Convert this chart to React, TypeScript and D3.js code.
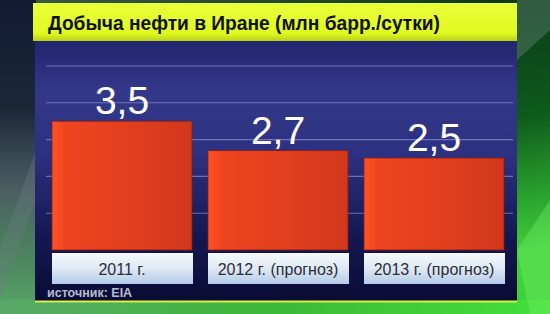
import * as d3 from "d3";
import React from "react";

// Oil production in Iran, million barrels per day
const categories = ["2011 г.", "2012 г. (прогноз)", "2013 г. (прогноз)"];
const values = [3.5, 2.7, 2.5];
const valueLabels = ["3,5", "2,7", "2,5"];
const gridTicks = [1, 2, 3, 4, 5];
const title = "Добыча нефти в Иране (млн барр./сутки)";
const source = "источник: EIA";

export default function App() {
    const width = 550;
    const height = 314;

    const x = d3.scaleBand<string>()
        .domain(categories)
        .range([52, 504])
        .paddingInner(16 / 156)
        .paddingOuter(0);

    const y = d3.scaleLinear().domain([0, 5]).range([250, 66]);

    const font = "'Liberation Sans', Arial, sans-serif";

    return (
        <svg width={width} height={height} style={{ position: "absolute", left: 0, top: 0 }}>
            <defs>
                <linearGradient id="bgRight" x1="0" y1="0" x2="0.3" y2="1">
                    <stop offset="0" stopColor="#3c5a4c" />
                    <stop offset="0.25" stopColor="#0c3a18" />
                    <stop offset="0.6" stopColor="#0e5a1c" />
                    <stop offset="1" stopColor="#3ed23a" />
                </linearGradient>
                <linearGradient id="bgLeft" x1="0" y1="0" x2="0" y2="1">
                    <stop offset="0" stopColor="#121a34" />
                    <stop offset="0.35" stopColor="#1c2838" />
                    <stop offset="0.6" stopColor="#4a5e62" />
                    <stop offset="0.85" stopColor="#4d8a5e" />
                    <stop offset="1" stopColor="#5aa868" />
                </linearGradient>
                <linearGradient id="bgBottom" x1="0" y1="0" x2="1" y2="0">
                    <stop offset="0" stopColor="#5aa868" />
                    <stop offset="0.5" stopColor="#3cb838" />
                    <stop offset="1" stopColor="#44e03a" />
                </linearGradient>
                <linearGradient id="titleGrad" x1="0" y1="0" x2="0" y2="1">
                    <stop offset="0" stopColor="#eaff3a" />
                    <stop offset="0.8" stopColor="#e0fa20" />
                    <stop offset="1" stopColor="#b8d018" />
                </linearGradient>
                <linearGradient id="panelGrad" x1="0" y1="0" x2="0" y2="1">
                    <stop offset="0" stopColor="#22256e" />
                    <stop offset="0.2" stopColor="#33388a" />
                    <stop offset="0.45" stopColor="#2c3080" />
                    <stop offset="0.75" stopColor="#141852" />
                    <stop offset="1" stopColor="#0a0c34" />
                </linearGradient>
                <linearGradient id="barGrad" x1="0" y1="0" x2="1" y2="0">
                    <stop offset="0" stopColor="#ff5224" />
                    <stop offset="0.1" stopColor="#ee4420" />
                    <stop offset="0.6" stopColor="#e03e1e" />
                    <stop offset="1" stopColor="#d0381c" />
                </linearGradient>
                <linearGradient id="labelGrad" x1="0" y1="0" x2="0" y2="1">
                    <stop offset="0" stopColor="#f6f9fc" />
                    <stop offset="0.5" stopColor="#dfe9f5" />
                    <stop offset="1" stopColor="#b4cbe8" />
                </linearGradient>
            </defs>

            {/* background */}
            <rect x={0} y={0} width={width} height={height} fill="url(#bgRight)" />
            <rect x={0} y={0} width={36} height={height} fill="url(#bgLeft)" />
            <polygon points="0,250 36,150 36,200 0,300" fill="#6a7e80" opacity={0.35} />
            <rect x={0} y={300} width={width} height={14} fill="url(#bgBottom)" />
            <polygon points="517,0 550,0 550,30 517,60" fill="#6a8a80" opacity={0.4} />
            <polygon points="517,250 550,200 550,314 530,314" fill="#7af070" opacity={0.35} />

            {/* panel */}
            <rect x={35} y={40} width={482} height={261} fill="url(#panelGrad)" />
            <line x1={35} x2={517} y1={301.5} y2={301.5} stroke="#d8f048" strokeWidth={2} />

            {/* title band */}
            <rect x={33} y={3} width={484} height={38} fill="url(#titleGrad)" />
            <text x={48} y={30} fontFamily={font} fontWeight="bold" fontSize={21}
                  textLength={392} lengthAdjust="spacingAndGlyphs" fill="#111">
                {title}
            </text>

            {/* grid */}
            {gridTicks.map((t) => (
                <line key={t} x1={46} x2={513} y1={y(t)} y2={y(t)}
                      stroke="#8d92d0" strokeOpacity={0.7} strokeWidth={1.1} />
            ))}

            {/* bars */}
            {categories.map((c, i) => {
                const bx = x(c) as number;
                const bw = x.bandwidth();
                return (
                    <g key={c}>
                        <rect x={bx} y={y(values[i])} width={bw} height={y(0) - y(values[i])}
                              fill="url(#barGrad)" stroke="#8a1c10" strokeWidth={0.8} />
                        <text x={bx + bw / 2} y={y(values[i]) - 7} textAnchor="middle"
                              fontFamily={font} fontSize={39} fill="#ffffff">
                            {valueLabels[i]}
                        </text>
                        <rect x={bx} y={253} width={bw + 1} height={31} fill="url(#labelGrad)" />
                        <text x={bx + bw / 2} y={275} textAnchor="middle"
                              fontFamily={font} fontSize={16} fill="#2a2e34">
                            {c}
                        </text>
                    </g>
                );
            })}

            {/* source */}
            <text x={47} y={297} fontFamily={font} fontSize={12.5} fontWeight="bold" fill="#b8bcd2">
                {source}
            </text>
        </svg>
    );
}
